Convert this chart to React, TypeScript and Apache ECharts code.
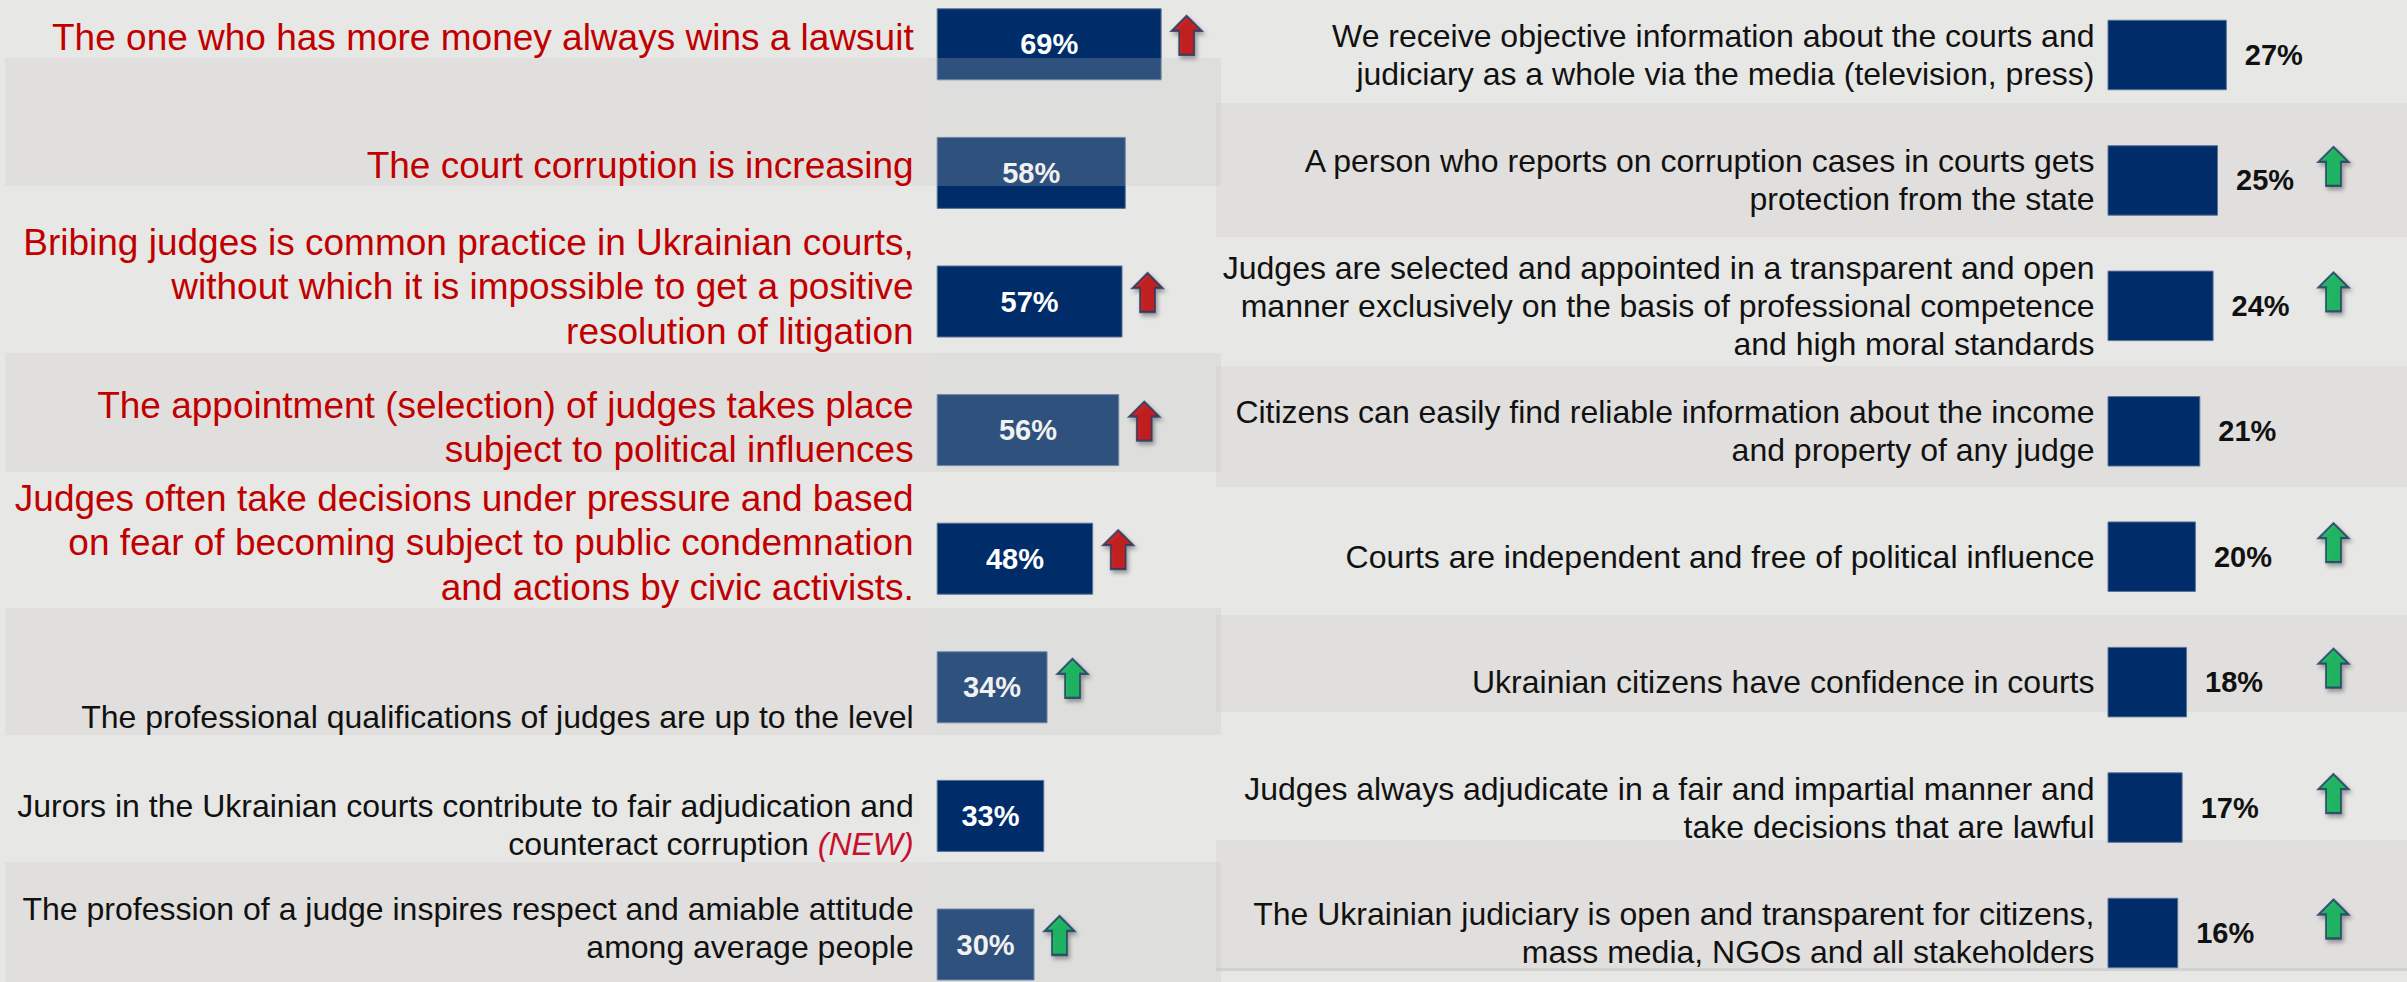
import React, { useEffect, useRef } from "react";
import * as echarts from "echarts";

// ---------- data ----------
const leftStatements = [
  "The one who has more money always wins a lawsuit",
  "The court corruption is increasing",
  "Bribing judges is common practice in Ukrainian courts,\nwithout which it is impossible to get a positive\nresolution of litigation",
  "The appointment (selection) of judges takes place\nsubject to political influences",
  "Judges often take decisions under pressure and based\non fear of becoming subject to public condemnation\nand actions by civic activists.",
  "The professional qualifications of judges are up to the level",
  "Jurors in the Ukrainian courts contribute to fair adjudication and\ncounteract corruption (NEW)",
  "The profession of a judge inspires respect and amiable attitude\namong average people",
];
const leftValues = [69, 58, 57, 56, 48, 34, 33, 30];
const leftTrend = ["red", "", "red", "red", "red", "green", "", "green"];
const leftCritical = [true, true, true, true, true, false, false, false];

const rightStatements = [
  "We receive objective information about the courts and\njudiciary as a whole via the media (television, press)",
  "A person who reports on corruption cases in courts gets\nprotection from the state",
  "Judges are selected and appointed in a transparent and open\nmanner exclusively on the basis of professional competence\nand high moral standards",
  "Citizens can easily find reliable information about the income\nand property of any judge",
  "Courts are independent and free of political influence",
  "Ukrainian citizens have confidence in courts",
  "Judges always adjudicate in a fair and impartial manner and\ntake decisions that are lawful",
  "The Ukrainian judiciary is open and transparent for citizens,\nmass media, NGOs and all stakeholders",
];
const rightValues = [27, 25, 24, 21, 20, 18, 17, 16];
const rightTrend = ["", "green", "green", "", "green", "green", "green", "green"];

// ---------- layout / style ----------
const leftLabelNudge = [-7, -7.5, -15, -2.5, -16, 30, 9, -17];
const rightLabelNudge = [10, 19, 4, 18.5, -4, 12, -4, 0];
const leftBands = [[58, 186], [353, 472], [608, 735], [862, 982]];
const rightBands = [[103, 237], [366, 487], [615, 712], [840, 968]];

const FONT = "Arial, 'Liberation Sans', sans-serif";
const NAVY = "#002D69";
const RED = "#C00000";
const TEXT = "#111111";
const BG = "#E7E7E5";
const BAND = "#E0DFDD";
const ARROW = "path://M15 0 L30 15 L22.5 15 L22.5 39 L7.5 39 L7.5 15 L0 15 Z";
const trendColor: Record<string, string> = { red: "#C00000", green: "#00B050" };

const nudgePad = (d: number) => (d >= 0 ? [2 * d, 0, 0, 0] : [0, 0, -2 * d, 0]);

const newFormatter = (v: string) => (v.includes("(NEW)") ? v.replace("(NEW)", "{nw|(NEW)}") : v);

export default function App() {
  const ref = useRef<HTMLDivElement>(null);

  useEffect(() => {
    if (!ref.current) return;
    const chart = echarts.init(ref.current, undefined, { renderer: "svg" });

    const arrowItemStyle = {
      borderColor: "#1F3864",
      borderWidth: 2,
      shadowBlur: 4,
      shadowOffsetX: 2,
      shadowOffsetY: 3,
      shadowColor: "rgba(0,0,0,0.4)",
    };

    const leftArrows = leftValues
      .map((v, i) => (leftTrend[i] ? { value: [v, i], itemStyle: { color: trendColor[leftTrend[i]] } } : null))
      .filter(Boolean);
    const rightArrows = rightValues
      .map((v, i) => (rightTrend[i] ? { value: [0, i], itemStyle: { color: trendColor[rightTrend[i]] } } : null))
      .filter(Boolean);

    const graphics: any[] = [];
    leftBands.forEach(([y0, y1]) => {
      graphics.push({ type: "rect", z: -1, silent: true, shape: { x: 5, y: y0, width: 925, height: y1 - y0 }, style: { fill: BAND } });
      graphics.push({ type: "rect", z: 50, silent: true, shape: { x: 930, y: y0, width: 291, height: y1 - y0 }, style: { fill: "rgba(196,195,193,0.24)" } });
    });
    rightBands.forEach(([y0, y1]) => {
      graphics.push({ type: "rect", z: -1, silent: true, shape: { x: 1216, y: y0, width: 1191, height: y1 - y0 }, style: { fill: BAND } });
    });
    graphics.push({ type: "rect", z: -1, silent: true, shape: { x: 1216, y: 968, width: 1191, height: 3 }, style: { fill: "#D2D2D0" } });

    chart.setOption({
      animation: false,
      backgroundColor: BG,
      textStyle: { fontFamily: FONT },
      graphic: graphics,
      grid: [
        { left: 936.7, top: -20, width: 326, height: 1028.8, containLabel: false, outerBoundsMode: "none" },
        { left: 2107.5, top: -7.7, width: 442, height: 1003.4, containLabel: false, outerBoundsMode: "none" },
      ],
      xAxis: [
        { type: "value", gridIndex: 0, min: 0, max: 100, show: false },
        { type: "value", gridIndex: 1, min: 0, max: 100, show: false },
      ],
      yAxis: [
        {
          type: "category",
          gridIndex: 0,
          inverse: true,
          data: leftStatements.map((s, i) => ({
            value: s,
            textStyle: {
              color: leftCritical[i] ? RED : TEXT,
              fontSize: leftCritical[i] ? 37 : 32,
              lineHeight: leftCritical[i] ? 44.5 : 38,
              padding: nudgePad(leftLabelNudge[i]),
            },
          })),
          axisLine: { show: false },
          axisTick: { show: false },
          splitLine: { show: false },
          axisLabel: {
            interval: 0,
            margin: 23,
            align: "right",
            fontFamily: FONT,
            formatter: newFormatter,
            rich: {
              nw: { color: "#C8102E", fontStyle: "italic", fontSize: 32, lineHeight: 38, fontFamily: FONT, align: "right" },
            },
          },
        },
        {
          type: "category",
          gridIndex: 1,
          inverse: true,
          data: rightStatements.map((s, i) => ({
            value: s,
            textStyle: { color: TEXT, fontSize: 32, lineHeight: 38, padding: nudgePad(rightLabelNudge[i]) },
          })),
          axisLine: { show: false },
          axisTick: { show: false },
          splitLine: { show: false },
          axisLabel: { interval: 0, margin: 13, align: "right", fontFamily: FONT },
        },
      ],
      series: [
        {
          type: "bar",
          xAxisIndex: 0,
          yAxisIndex: 0,
          barWidth: 72,
          data: leftValues,
          itemStyle: { color: NAVY, borderColor: "#5B7398", borderWidth: 1 },
          label: {
            show: true,
            position: "inside",
            formatter: "{c}%",
            color: "#FFFFFF",
            fontWeight: "bold",
            fontSize: 29,
            fontFamily: FONT,
          },
          silent: true,
        },
        {
          type: "scatter",
          xAxisIndex: 0,
          yAxisIndex: 0,
          z: 60,
          symbol: ARROW,
          symbolSize: [30, 39],
          symbolOffset: [25, -9],
          itemStyle: arrowItemStyle,
          data: leftArrows,
          silent: true,
        },
        {
          type: "bar",
          xAxisIndex: 1,
          yAxisIndex: 1,
          barWidth: 70.5,
          data: rightValues,
          itemStyle: { color: NAVY, borderColor: "#5B7398", borderWidth: 1 },
          label: {
            show: true,
            position: "right",
            distance: 18,
            formatter: "{c}%",
            color: TEXT,
            fontWeight: "bold",
            fontSize: 29,
            fontFamily: FONT,
          },
          silent: true,
        },
        {
          type: "scatter",
          xAxisIndex: 1,
          yAxisIndex: 1,
          z: 60,
          symbol: ARROW,
          symbolSize: [30, 39],
          symbolOffset: [226, -14],
          itemStyle: arrowItemStyle,
          data: rightArrows,
          silent: true,
        },
      ],
    });

    return () => chart.dispose();
  }, []);

  return (
    <div
      ref={ref}
      style={{ position: "absolute", left: 0, top: 0, width: 2407, height: 982 }}
    />
  );
}
